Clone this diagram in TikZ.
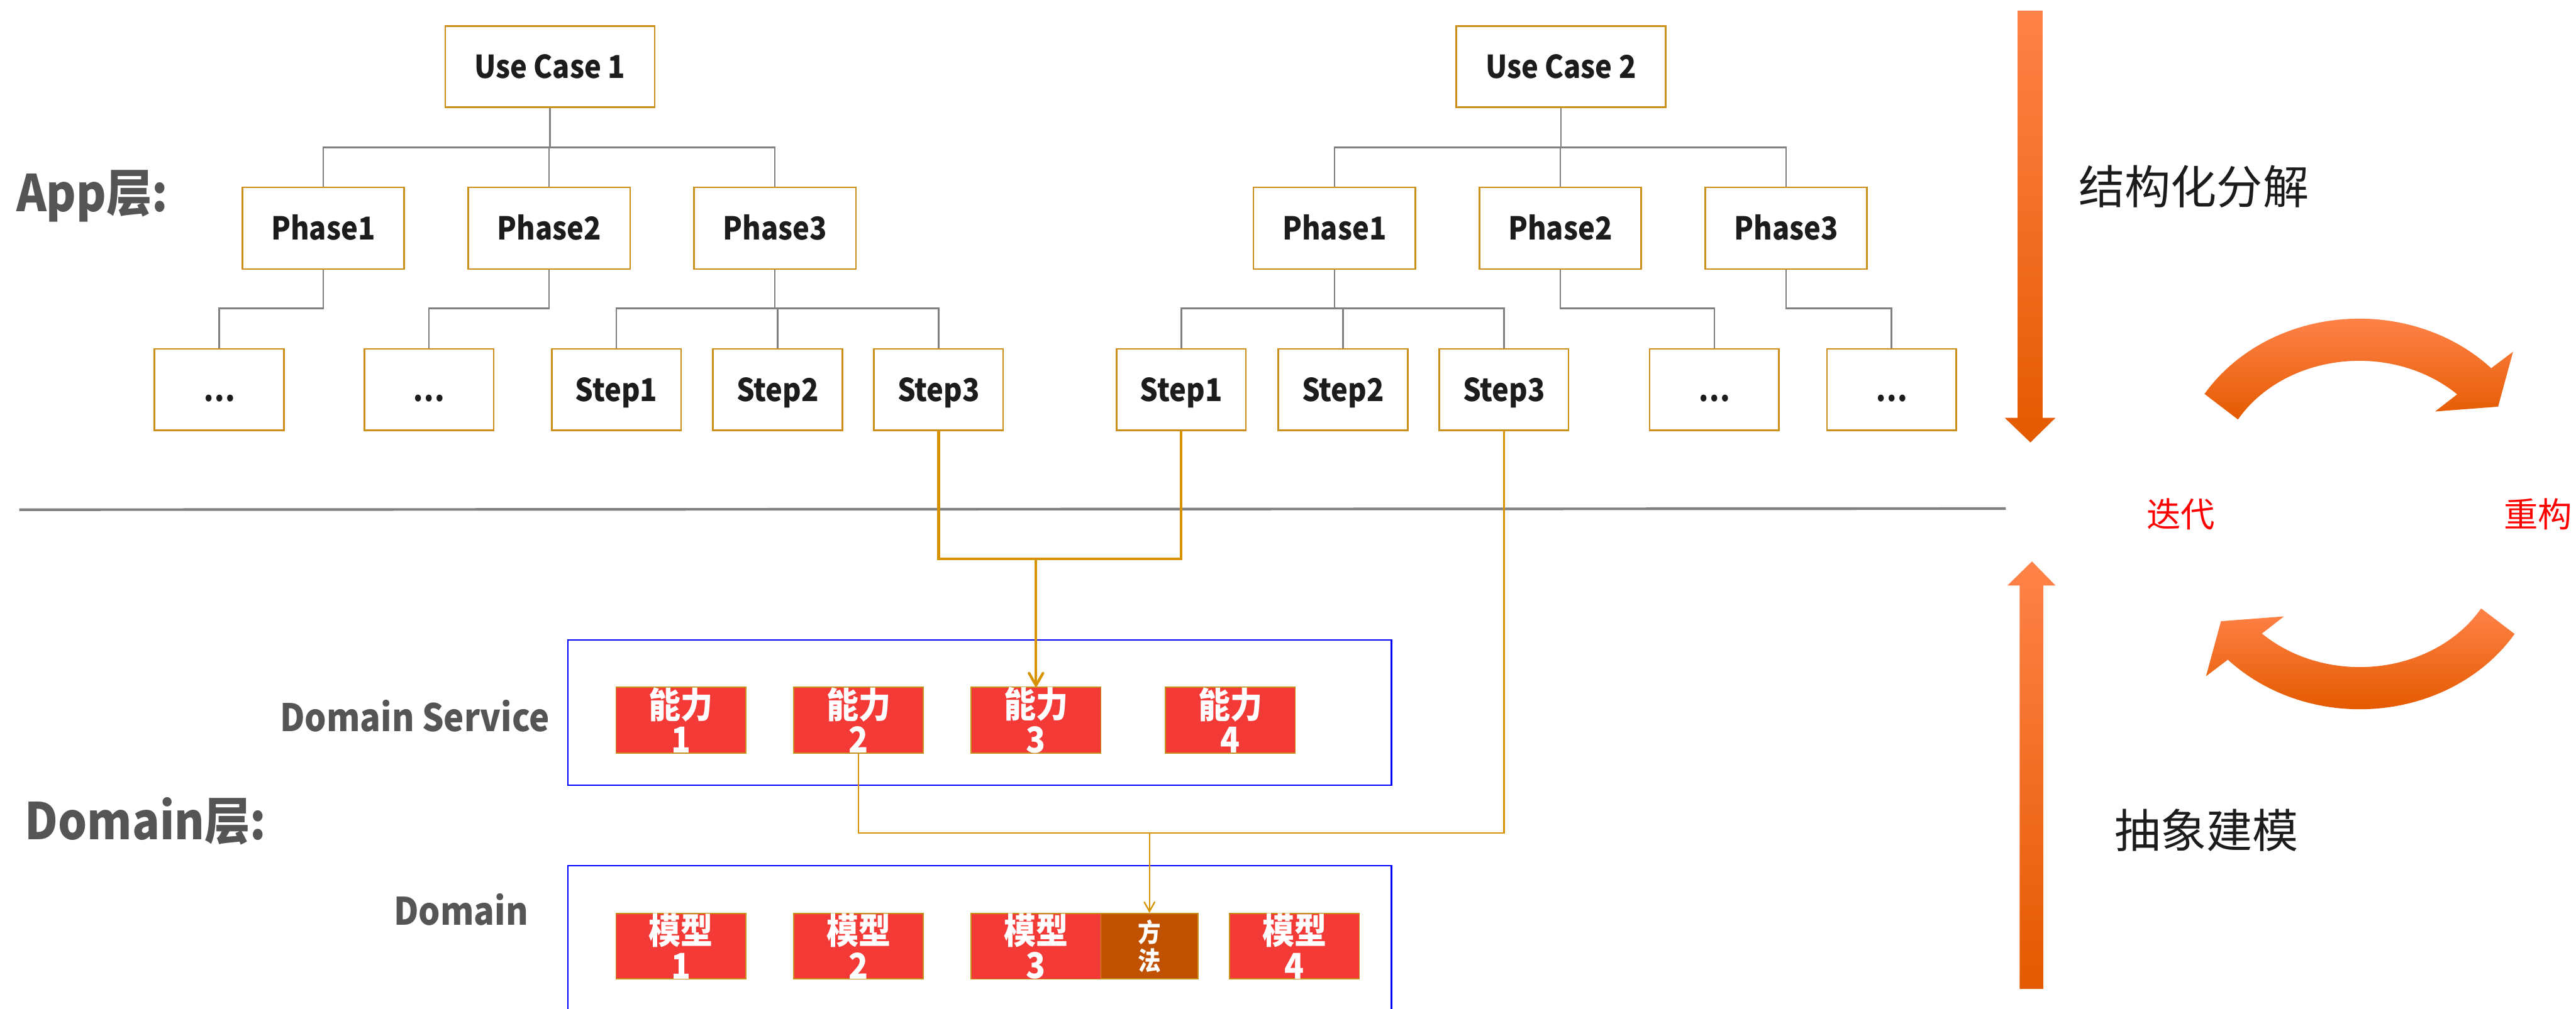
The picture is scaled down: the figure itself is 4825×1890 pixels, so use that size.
\documentclass[tikz,border=0pt]{standalone}
\usepackage{fontspec}
\setmainfont{Noto Sans CJK SC}
\newfontfamily\narrowfont{Noto Sans CJK SC}[FakeStretch=0.9]
\usetikzlibrary{arrows.meta}
\definecolor{tborder}{RGB}{204,143,26}
\definecolor{txt}{RGB}{28,28,28}
\definecolor{lblgray}{RGB}{85,85,85}
\definecolor{tgray}{RGB}{128,128,128}
\definecolor{gold}{RGB}{214,146,0}
\definecolor{redfill}{RGB}{243,58,55}
\definecolor{redborder}{RGB}{200,145,30}
\definecolor{methfill}{RGB}{191,81,0}
\definecolor{olight}{RGB}{255,130,72}
\definecolor{omid}{RGB}{255,106,0}
\definecolor{odark}{RGB}{228,90,0}
\definecolor{pureblue}{RGB}{0,0,255}
\definecolor{pured}{RGB}{255,0,0}
\tikzset{
  tbox/.style={draw=tborder, line width=0.85pt, fill=white, minimum width=2.42cm,
    minimum height=1.52cm, inner sep=0pt, text=txt,
    font=\narrowfont\fontsize{16.8pt}{20pt}\selectfont\bfseries, text height=12.3pt, text depth=0pt},
  ucbox/.style={tbox, minimum width=3.92cm},
  phbox/.style={tbox, minimum width=3.03cm, minimum height=1.53cm},
  tconn/.style={draw=tgray, line width=0.85pt},
  thickc/.style={draw=gold, line width=1.4pt, line join=miter},
  thinc/.style={draw=gold, line width=0.75pt},
  bluebox/.style={draw=pureblue, line width=0.85pt, minimum width=15.42cm, inner sep=0pt},
  rbox/.style={draw=redborder, line width=0.6pt, fill=redfill, minimum width=2.43cm,
    minimum height=1.23cm, inner sep=0pt, text=white, align=center,
    font=\narrowfont\fontsize{19pt}{18.5pt}\selectfont\bfseries},
  mbox/.style={rbox, fill=methfill, minimum width=1.82cm,
    font=\narrowfont\fontsize{13.6pt}{15.1pt}\selectfont\bfseries},
  biglbl/.style={text=lblgray, inner sep=0pt, font=\narrowfont\fontsize{27pt}{30pt}\selectfont\bfseries},
  midlbl/.style={text=lblgray, inner sep=0pt, font=\narrowfont\fontsize{20.2pt}{24pt}\selectfont\bfseries},
  sidetxt/.style={text=txt, inner sep=0pt, font=\fontsize{24.5pt}{28pt}\selectfont},
  redtxt/.style={text=pured, inner sep=0pt, font=\fontsize{18.2pt}{21pt}\selectfont},
  oshade/.style={top color=olight, middle color=omid, bottom color=odark},
}
\begin{document}
\begin{tikzpicture}[x=0.01cm,y=-0.01cm]
\useasboundingbox (0,0) rectangle (4825,1890);
\begin{scope}
\clip (0,0) rectangle (4825,1890);

% divider
\draw[draw=tgray, line width=1.4pt] (36,955) -- (3757,953);

% tree nodes
\node[ucbox] (uc1) at (1030,125) {Use Case 1};
\node[ucbox] (uc2) at (2923.5,125) {Use Case 2};
\node[phbox] (p11) at (605.5,427.5) {Phase1};
\node[phbox] (p12) at (1028.5,427.5) {Phase2};
\node[phbox] (p13) at (1451.5,427.5) {Phase3};
\node[phbox] (p21) at (2499.5,427.5) {Phase1};
\node[phbox] (p22) at (2922.5,427.5) {Phase2};
\node[phbox] (p23) at (3345.5,427.5) {Phase3};
\node[tbox] (d11) at (410.5,730) {…};
\node[tbox] (d12) at (803.5,730) {…};
\node[tbox] (s11) at (1154.5,730) {Step1};
\node[tbox] (s12) at (1456.5,730) {Step2};
\node[tbox] (s13) at (1758,730) {Step3};
\node[tbox] (s21) at (2212.5,730) {Step1};
\node[tbox] (s22) at (2515.5,730) {Step2};
\node[tbox] (s23) at (2817,730) {Step3};
\node[tbox] (d21) at (3211,730) {…};
\node[tbox] (d22) at (3543,730) {…};

\coordinate (b1) at (0,276);
\coordinate (b2) at (0,578);
\foreach \p/\c in {uc1/p11,uc1/p12,uc1/p13,uc2/p21,uc2/p22,uc2/p23}
  \draw[tconn] (\p.south) -- (\p.south |- b1) -| (\c.north);
\foreach \p/\c in {p11/d11,p12/d12,p13/s11,p13/s12,p13/s13,p21/s21,p21/s22,p21/s23,p22/d21,p23/d22}
  \draw[tconn] (\p.south) -- (\p.south |- b2) -| (\c.north);

% domain containers
\node[bluebox, minimum height=2.72cm] (dsbox) at (1835,1335) {};
\node[bluebox, minimum height=3.28cm] (dbox) at (1835,1786) {};

% capability boxes
\node[rbox] (n1) at (1275.5,1349.5) {能力\\1};
\node[rbox] (n2) at (1608,1349.5) {能力\\2};
\node[rbox] (n3) at (1940.5,1349.5) {能力\\3};
\node[rbox] (n4) at (2304.5,1349.5) {能力\\4};
% model boxes
\node[rbox] (m1) at (1275.5,1773) {模型\\1};
\node[rbox] (m2) at (1608,1773) {模型\\2};
\node[rbox] (m3) at (1940.5,1773) {模型\\3};
\node[mbox] (ff) at (2153,1773) {方\\法};
\node[rbox] (m4) at (2424.5,1773) {模型\\4};

% gold connectors
\coordinate (j1) at (1940.5,1047);
\draw[thickc] (s13.south) |- (j1) -| (s21.south);
\draw[thickc, -{Straight Barb[length=6.5pt,width=7.4pt,round]}] (j1) -- (n3.north);
\coordinate (j2) at (2153,1561);
\draw[thinc] (n2.south) |- (j2) -| (s23.south);
\draw[thinc, -{Straight Barb[length=5.1pt,width=5.7pt]}] (j2) -- (ff.north);

% labels
\node[biglbl, anchor=base west] (applbl) at (30,396) {App层:};
\node[biglbl, anchor=base west] (domlbl) at (46,1573) {Domain层:};
\node[midlbl, anchor=base east] (dslbl) at (1030,1371) {Domain Service};
\node[midlbl, anchor=base east] (dlbl) at (990,1733) {Domain};

% vertical arrows
\shade[oshade] (3779,20) -- (3826,20) -- (3826,783) -- (3850,783) -- (3803,829)
  -- (3755,783) -- (3779,783) -- cycle;
\shade[oshade] (3806,1052) -- (3850,1097) -- (3827,1097) -- (3827,1853)
  -- (3783,1853) -- (3783,1097) -- (3760,1097) -- cycle;

% curved arrows
\shade[oshade] plot[domain=-147.7:-43.9, samples=50] ({4419+343*cos(\x)},{900+303*sin(\x)})
  -- (4707,659) -- (4679,762) -- (4561,771) -- (4601,740)
  -- plot[domain=-46:-149.4, samples=50] ({4419+264*cos(\x)},{900+224*sin(\x)}) -- cycle;
\shade[oshade] plot[domain=32.3:136.1, samples=50] ({4420+343*cos(\x)},{1026+303*sin(\x)})
  -- (4132,1267) -- (4160,1164) -- (4278,1155) -- (4238,1186)
  -- plot[domain=134:30.6, samples=50] ({4420+264*cos(\x)},{1026+224*sin(\x)}) -- cycle;

% side texts
\node[sidetxt, anchor=west] (t1) at (3893,350) {结构化分解};
\node[sidetxt, anchor=west] (t2) at (3960,1555) {抽象建模};
\node[redtxt, anchor=west] (t3) at (4020,964) {迭代};
\node[redtxt, anchor=west] (t4) at (4689,964) {重构};
\end{scope}
\end{tikzpicture}
\end{document}
